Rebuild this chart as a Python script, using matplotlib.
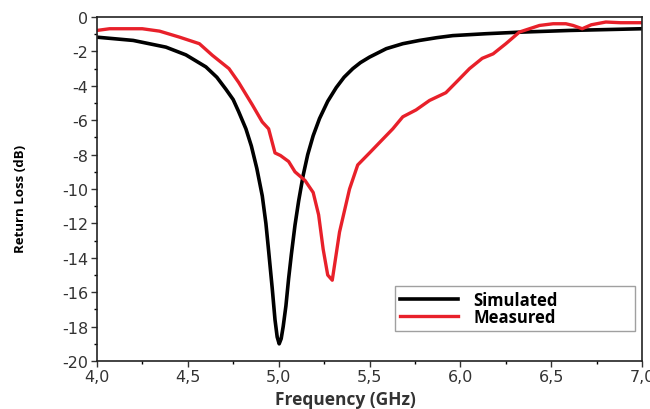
import matplotlib
matplotlib.use("agg")
import matplotlib.pyplot as plt
from matplotlib.ticker import MultipleLocator, FuncFormatter

# simulated return loss
freq_sim = [4.0, 4.2, 4.38, 4.49, 4.6, 4.66, 4.71, 4.75, 4.78, 4.82, 4.85, 4.88, 4.91,
            4.93, 4.945, 4.965, 4.98, 4.992, 5.003, 5.014, 5.025, 5.04, 5.055, 5.07,
            5.09, 5.11, 5.135, 5.16, 5.19, 5.225, 5.27, 5.317, 5.36, 5.408, 5.45,
            5.5, 5.592, 5.683, 5.775, 5.87, 5.958, 6.14, 6.325, 6.6, 7.0]
rl_sim = [-1.17, -1.36, -1.75, -2.2, -2.9, -3.5, -4.2, -4.8, -5.5, -6.5, -7.5, -8.8,
          -10.4, -12.0, -13.6, -15.8, -17.6, -18.6, -19.0, -18.7, -18.0, -16.8, -15.2,
          -13.8, -12.1, -10.7, -9.2, -8.0, -6.9, -5.9, -4.9, -4.1, -3.5, -3.0, -2.65,
          -2.33, -1.84, -1.55, -1.36, -1.2, -1.08, -0.97, -0.88, -0.78, -0.68]

# measured return loss
freq_meas = [4.0, 4.07, 4.25, 4.345, 4.455, 4.564, 4.636, 4.727, 4.78, 4.855, 4.91,
             4.945, 4.98, 5.01, 5.055, 5.09, 5.145, 5.19, 5.22, 5.245, 5.27, 5.295,
             5.335, 5.39, 5.435, 5.5, 5.573, 5.628, 5.683, 5.756, 5.83, 5.92, 5.976,
             6.05, 6.12, 6.18, 6.25, 6.325, 6.38, 6.435, 6.51, 6.58, 6.62, 6.67,
             6.72, 6.8, 6.88, 7.0]
rl_meas = [-0.78, -0.68, -0.68, -0.82, -1.17, -1.55, -2.23, -3.0, -3.8, -5.1, -6.1,
           -6.5, -7.9, -8.05, -8.4, -9.0, -9.5, -10.2, -11.5, -13.5, -15.0, -15.3,
           -12.5, -10.0, -8.6, -7.9, -7.1, -6.5, -5.8, -5.4, -4.85, -4.4, -3.8,
           -3.0, -2.4, -2.14, -1.55, -0.87, -0.68, -0.49, -0.39, -0.39, -0.49, -0.68,
           -0.45, -0.29, -0.33, -0.33]

fig = plt.figure(figsize=(6.5, 4.1), dpi=100)
ax = fig.add_axes([0.149, 0.117, 0.839, 0.839])

ax.plot(freq_sim, rl_sim, color='black', lw=2.6, label='Simulated')
ax.plot(freq_meas, rl_meas, color='#e8202a', lw=2.4, label='Measured')

ax.set_xlim(4.0, 7.0)
ax.set_ylim(-20, 0)
ax.xaxis.set_major_locator(MultipleLocator(0.5))
ax.xaxis.set_minor_locator(MultipleLocator(0.25))
ax.yaxis.set_major_locator(MultipleLocator(2))
ax.yaxis.set_minor_locator(MultipleLocator(1))
ax.xaxis.set_major_formatter(FuncFormatter(lambda v, p: ('%.1f' % v).replace('.', ',')))
ax.yaxis.set_major_formatter(FuncFormatter(lambda v, p: '%d' % round(v)))
ax.tick_params(which='major', length=4, width=1, labelsize=11.5, colors='#333333', pad=2)
ax.tick_params(which='minor', length=2.5, width=1)
for s in ax.spines.values():
    s.set_linewidth(1.2)
    s.set_color('#222222')

ax.set_xlabel('Frequency (GHz)', fontsize=12.5, fontweight='bold', family='Open Sans', color='#333333')
ax.set_ylabel('Return Loss (dB)', fontsize=9.5, fontweight='bold', family='Open Sans')
ax.xaxis.set_label_coords(0.455, -0.085)
ax.yaxis.set_label_coords(-0.128, 0.474)

leg = ax.legend(loc='lower left', bbox_to_anchor=(0.547, 0.087, 0.44, 0.128), mode='expand',
                frameon=True, fancybox=False, edgecolor='#888888', handlelength=3.5,
                handletextpad=0.9, borderpad=0.3, labelspacing=-0.05, borderaxespad=0,
                prop={'family': 'Open Sans', 'weight': 'bold', 'size': 12})
leg.get_frame().set_linewidth(1.0)

fig.savefig('out.png', dpi=100)
